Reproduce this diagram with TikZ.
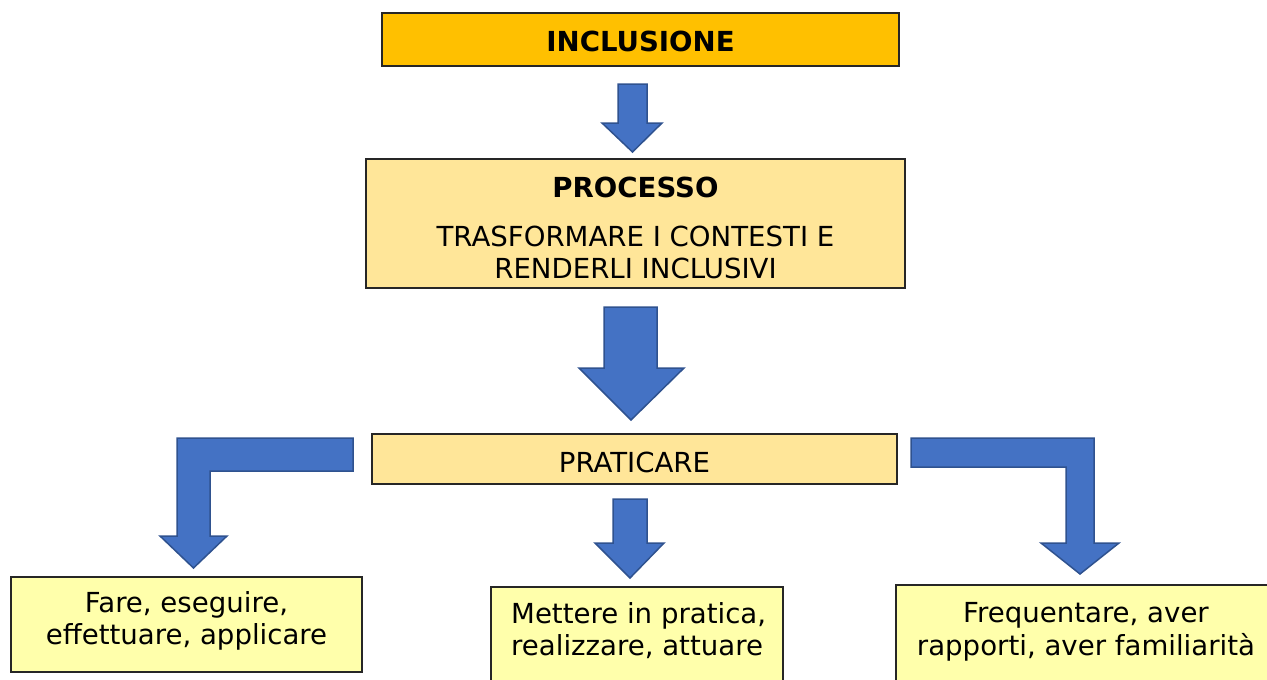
\documentclass[tikz,border=0pt]{standalone}
\usepackage{fontspec}
\setmainfont{DejaVu Sans}
\definecolor{gold}{HTML}{FFC000}
\definecolor{peach}{HTML}{FFE699}
\definecolor{pale}{HTML}{FFFFAB}
\definecolor{arrowblue}{HTML}{4472C4}
\definecolor{blueedge}{HTML}{2F528F}
\begin{document}
\begin{tikzpicture}[x=1pt,y=-1pt]
\tikzset{
  box/.style={draw=black!85, line width=1.2pt, inner sep=0pt},
  txt/.style={inner sep=0pt, font=\fontsize{27.6}{32}\selectfont},
  btxt/.style={inner sep=0pt, font=\fontsize{27.6}{32}\selectfont\bfseries},
  blockarrow/.style={fill=arrowblue, draw=blueedge, line width=1.5pt, line join=miter}
}
\useasboundingbox (0,0) rectangle (1267,680);
\clip (0,0) rectangle (1267,680);
% boxes
\path[box, fill=gold] (382,13) rectangle (899,66);
\path[box, fill=peach] (366,159) rectangle (905,288);
\path[box, fill=peach] (372,434) rectangle (897,484);
\path[box, fill=pale] (11,577) rectangle (362,672);
\path[box, fill=pale] (491,587) rectangle (783,700);
\path[box, fill=pale] (896,585) rectangle (1290,700);
% texts
\node[btxt, anchor=base] (incl) at (640.5,51) {INCLUSIONE};
\node[btxt, anchor=base] (proc) at (635.5,197) {PROCESSO};
\node[txt, anchor=base] (tr1) at (635.5,246) {TRASFORMARE I CONTESTI E};
\node[txt, anchor=base] (tr2) at (635.5,278) {RENDERLI INCLUSIVI};
\node[txt, anchor=base] (prat) at (634.5,472) {PRATICARE};
\node[txt, anchor=base] (l1) at (186.5,612) {Fare, eseguire,};
\node[txt, anchor=base] (l2) at (186.5,644) {effettuare, applicare};
\node[txt, anchor=base west] (m1) at (511,623) {Mettere in pratica,};
\node[txt, anchor=base west] (m2) at (511,655) {realizzare, attuare};
\node[txt, anchor=base] (r1) at (1086,622) {Frequentare, aver};
\node[txt, anchor=base] (r2) at (1086,655) {rapporti, aver familiarità};
% arrows
\draw[blockarrow] (618,84) -- (647,84) -- (647,123) -- (662,123) -- (632.5,152) -- (602,123) -- (618,123) -- cycle;
\draw[blockarrow] (604,307) -- (657,307) -- (657,368) -- (684,368) -- (631,420) -- (579,368) -- (604,368) -- cycle;
\draw[blockarrow] (613,499) -- (647,499) -- (647,543) -- (664,543) -- (630,578) -- (595,543) -- (613,543) -- cycle;
\draw[blockarrow] (353,438) -- (177,438) -- (177,536) -- (160,536) -- (193.5,568) -- (227,536) -- (210,536) -- (210,471) -- (353,471) -- cycle;
\draw[blockarrow] (911,438) -- (1094,438) -- (1094,543) -- (1119,543) -- (1080,574) -- (1041,543) -- (1066,543) -- (1066,467) -- (911,467) -- cycle;
\end{tikzpicture}
\end{document}
